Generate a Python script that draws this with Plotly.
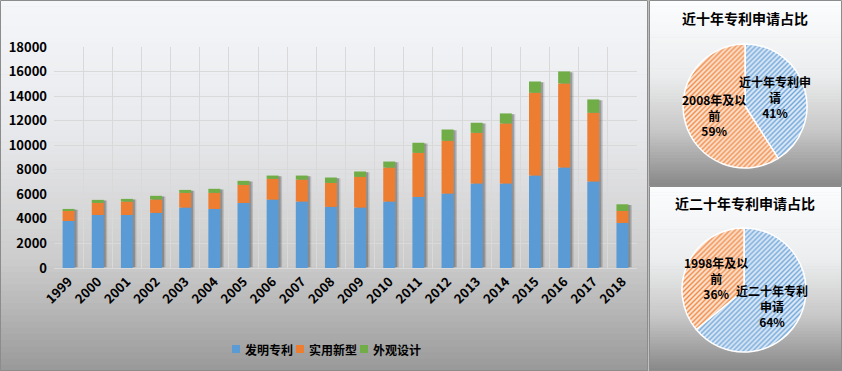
import plotly.graph_objects as go

years = [str(y) for y in range(1999, 2019)]
invention = [3830, 4320, 4320, 4490, 4920, 4810, 5300, 5570, 5410, 4980,
             4920, 5410, 5790, 6060, 6880, 6880, 7530, 8180, 7040, 3670]
utility = [820, 980, 1090, 1090, 1200, 1310, 1470, 1690, 1790, 1950,
           2500, 2770, 3590, 4300, 4130, 4890, 6740, 6850, 5600, 980]
design = [160, 250, 220, 300, 240, 330, 330, 270, 330, 440,
          440, 490, 820, 920, 820, 820, 920, 980, 1090, 540]
series_names = ["发明专利", "实用新型", "外观设计"]
series_colors = ["#5b9bd5", "#ed7d31", "#70ad47"]

pie1_title = "近十年专利申请占比"
pie1_labels = ["近十年专利申<br>请", "2008年及以<br>前"]
pie1_values = [41, 59]
pie2_title = "近二十年专利申请占比"
pie2_labels = ["近二十年专利<br>申请", "1998年及以<br>前"]
pie2_values = [64, 36]

W, H = 842, 371
FONT = "Noto Sans CJK SC"


def px_x(x):
    return x / W


def px_y(y):
    return (H - y) / H


def lerp_stops(stops, t):
    for (t0, c0), (t1, c1) in zip(stops, stops[1:]):
        if t0 <= t <= t1:
            f = (t - t0) / (t1 - t0) if t1 > t0 else 0
            return tuple(round(a + (b - a) * f) for a, b in zip(c0, c1))
    return stops[-1][1]


shapes = []


def gradient_panel(x0, y0, x1, y1, stops, n=60):
    h = (y1 - y0) / n
    for i in range(n):
        t = (i + 0.5) / n
        r, g, b = lerp_stops(stops, t)
        shapes.append(dict(type="rect", xref="paper", yref="paper", layer="below",
                           x0=px_x(x0), x1=px_x(x1),
                           y0=px_y(y0 + i * h), y1=px_y(min(y1, y0 + (i + 1) * h + 0.6)),
                           fillcolor=f"rgb({r},{g},{b})", line=dict(width=0)))
    shapes.append(dict(type="rect", xref="paper", yref="paper", layer="below",
                       x0=px_x(x0 + 0.5), x1=px_x(x1 - 0.5), y0=px_y(y0 + 0.5), y1=px_y(y1 - 0.5),
                       line=dict(color="#8c8c8c", width=1), fillcolor="rgba(0,0,0,0)"))


left_stops = [(0, (244, 246, 249)), (0.35, (232, 233, 236)), (0.7, (204, 204, 204)),
              (0.85, (180, 180, 180)), (1, (152, 152, 152))]
right_stops = [(0, (252, 253, 254)), (0.4, (236, 237, 238)), (0.7, (200, 200, 200)),
               (1, (136, 136, 136))]
gradient_panel(0, 0, 648, H, left_stops)
gradient_panel(649, 0, W, 186, right_stops)
gradient_panel(649, 186, W, H, right_stops)

fig = go.Figure()

totals = [a + b + c for a, b, c in zip(invention, utility, design)]
bw = 0.41
for off, alpha in [(0.12, 0.18), (0.07, 0.28)]:
    fig.add_trace(go.Bar(x=years, y=[t - 120 for t in totals], base=[60] * len(years),
                         width=bw, offset=-bw / 2 + off,
                         marker=dict(color=f"rgba(40,40,40,{alpha})", line=dict(width=0)),
                         showlegend=False, hoverinfo="skip"))

bases = [0] * len(years)
for name, vals, col in zip(series_names, [invention, utility, design], series_colors):
    fig.add_trace(go.Bar(x=years, y=vals, base=list(bases), name=name,
                         width=bw, offset=-bw / 2, showlegend=False,
                         marker=dict(color=col, line=dict(width=0))))
    bases = [b + v for b, v in zip(bases, vals)]

pie_specs = [
    (pie1_labels, pie1_values, (683, 807, 44, 168)),
    (pie2_labels, pie2_values, (682, 806, 228, 352)),
]
for labels, vals, (x0, x1, y0, y1) in pie_specs:
    fig.add_trace(go.Pie(labels=labels, values=vals, sort=False, direction="clockwise",
                         rotation=0, textinfo="none", showlegend=False,
                         domain=dict(x=[px_x(x0), px_x(x1)], y=[px_y(y1), px_y(y0)]),
                         marker=dict(colors=["#dbe8f5", "#fbe0cc"],
                                     line=dict(color="white", width=1.5),
                                     pattern=dict(shape="/", fgcolor=["#6fa6d9", "#f08a45"],
                                                  bgcolor=["#dde9f6", "#fce3d2"],
                                                  size=3.5, solidity=0.4))))

annotations = []
lab_font = dict(family=FONT, size=12, color="black", weight="bold")
label_pos = [
    (pie1_labels, pie1_values, [(775, 97), (714, 115)]),
    (pie2_labels, pie2_values, [(772, 306), (716, 278)]),
]
for labels, vals, pos in label_pos:
    tot = sum(vals)
    for lab, v, (x, y) in zip(labels, vals, pos):
        annotations.append(dict(text=f"{lab}<br>{round(100 * v / tot)}%", x=px_x(x), y=px_y(y),
                                xref="paper", yref="paper", showarrow=False,
                                xanchor="center", yanchor="middle",
                                font=lab_font, align="center"))
for title, (x, y) in [(pie1_title, (745, 18)), (pie2_title, (745, 203))]:
    annotations.append(dict(text=title, x=px_x(x), y=px_y(y), xref="paper", yref="paper",
                            showarrow=False, xanchor="center", yanchor="middle",
                            font=dict(family=FONT, size=14, color="black", weight="bold")))

# manual legend (tight spacing like the reference)
for i, (name, col) in enumerate(zip(series_names, series_colors)):
    lx = 232 + i * 64
    shapes.append(dict(type="rect", xref="paper", yref="paper",
                       x0=px_x(lx), x1=px_x(lx + 8), y0=px_y(353), y1=px_y(345),
                       fillcolor=col, line=dict(width=0)))
    annotations.append(dict(text=name, x=px_x(lx + 11), y=px_y(349), xref="paper", yref="paper",
                            showarrow=False, xanchor="left", yanchor="middle",
                            font=dict(family=FONT, size=12, color="black", weight="bold")))

fig.update_layout(
    width=W, height=H,
    margin=dict(l=0, r=0, t=0, b=0, autoexpand=False),
    paper_bgcolor="#c0c0c0", plot_bgcolor="rgba(0,0,0,0)",
    barmode="overlay",
    showlegend=False,
    font=dict(family=FONT, size=13, color="black", weight="bold"),
    shapes=shapes,
    annotations=annotations,
    xaxis=dict(domain=[px_x(54), px_x(637)], type="category", tickson="boundaries",
               showgrid=True, gridcolor="#d9d9d9", gridwidth=1, tickangle=-45,
               ticks="", showline=True, linecolor="#d9d9d9", mirror=False,
               automargin=False,
               tickfont=dict(family=FONT, size=13, weight="bold", color="black"),
               fixedrange=True),
    yaxis=dict(domain=[px_y(268), px_y(47)], range=[0, 18000], dtick=2000, tickformat="d",
               showgrid=True, gridcolor="#d9d9d9", gridwidth=1, zeroline=False,
               ticks="", ticklabelstandoff=6, automargin=False,
               tickfont=dict(family=FONT, size=13, weight="bold", color="black"),
               fixedrange=True),
)

fig.write_html("out.html", config={"displayModeBar": False},
               post_script="document.body.style.margin='0';document.body.style.overflow='hidden';")
